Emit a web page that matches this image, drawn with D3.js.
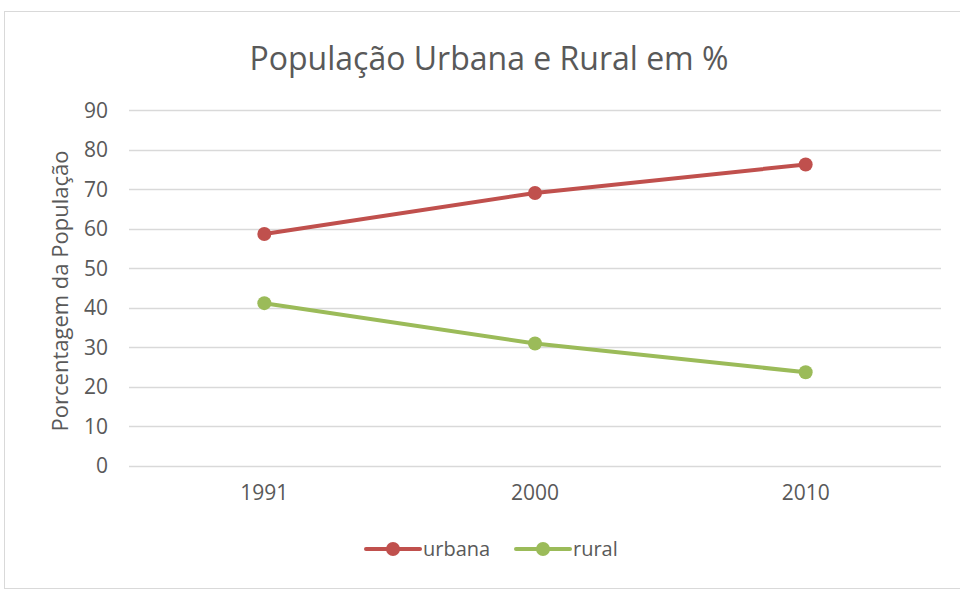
<!DOCTYPE html>
<html>
<head>
<meta charset="utf-8">
<script src="https://cdn.jsdelivr.net/npm/d3@7"></script>
<style>
  body { margin: 0; background: #fff; }
  svg text { font-family: "Open Sans", "DejaVu Sans", sans-serif; fill: #595959; }
</style>
</head>
<body>
<svg id="chart" width="960" height="590"></svg>
<script>
// data
const years = ["1991", "2000", "2010"];
const urbana = [58.6, 69.0, 76.2];
const rural = [41.1, 30.9, 23.6];
const yTicks = [0, 10, 20, 30, 40, 50, 60, 70, 80, 90];
const seriesNames = ["urbana", "rural"];
const seriesColors = ["#C0504D", "#9BBB59"];

const svg = d3.select("#chart");

// outer frame
svg.append("rect").attr("x", 4.5).attr("y", 11.5).attr("width", 970).attr("height", 577)
  .attr("fill", "none").attr("stroke", "#D9D9D9");

const plotLeft = 129, plotRight = 941, plotTop = 110, plotBottom = 465.5;

let xScale = d3.scaleBand().domain(years).range([plotLeft, plotRight]).padding(0);
let yScale = d3.scaleLinear().domain([0, 90]).range([plotBottom, plotTop]);

// gridlines
svg.append("g").selectAll("line").data(yTicks).enter().append("line")
  .attr("x1", plotLeft).attr("x2", plotRight)
  .attr("y1", d => Math.round(yScale(d)) + 0.5).attr("y2", d => Math.round(yScale(d)) + 0.5)
  .attr("stroke", "#D9D9D9").attr("stroke-width", 1.3);

// y axis labels
let y_axis = d3.axisLeft(yScale).tickValues(yTicks).tickSize(0).tickPadding(0);
let yg = svg.append("g").attr("transform", `translate(${plotLeft - 21},0)`).call(y_axis);
yg.select(".domain").remove();
yg.selectAll("text").style("font-size", "21px").attr("fill", "#595959").attr("dy", "0.35em");

// x axis labels
let x_axis = d3.axisBottom(xScale).tickSize(0).tickPadding(0);
let xg = svg.append("g").attr("transform", `translate(0,${plotBottom + 20})`).call(x_axis);
xg.select(".domain").remove();
xg.selectAll("text").style("font-size", "21px").attr("fill", "#595959").attr("dy", "0.71em");

// title
svg.append("text").attr("x", 489).attr("y", 70).attr("text-anchor", "middle")
  .style("font-size", "32px").text("População Urbana e Rural em %");

// y label
svg.append("g").attr("transform", `translate(68,${291}) rotate(270)`)
  .append("text").attr("text-anchor", "middle").style("font-size", "22px")
  .text("Porcentagem da População");

// lines
const allSeries = [urbana, rural];
const line = d3.line().x((d, i) => xScale(years[i]) + xScale.bandwidth() / 2).y(d => yScale(d));
allSeries.forEach((vals, s) => {
  svg.append("path").datum(vals).attr("d", line)
    .attr("fill", "none").attr("stroke", seriesColors[s]).attr("stroke-width", 4)
    .attr("stroke-linecap", "round");
  svg.append("g").selectAll("circle").data(vals).enter().append("circle")
    .attr("cx", (d, i) => xScale(years[i]) + xScale.bandwidth() / 2)
    .attr("cy", d => yScale(d))
    .attr("r", 7).attr("fill", seriesColors[s]);
});

// legend
const legendX = [366, 516];
seriesNames.forEach((name, s) => {
  let g = svg.append("g").attr("transform", `translate(${legendX[s]},549)`);
  g.append("line").attr("x1", 0).attr("x2", 54).attr("y1", 0).attr("y2", 0)
    .attr("stroke", seriesColors[s]).attr("stroke-width", 4).attr("stroke-linecap", "round");
  g.append("circle").attr("cx", 27).attr("cy", 0).attr("r", 7).attr("fill", seriesColors[s]);
  g.append("text").attr("x", 57).attr("y", 0).attr("dy", "0.35em").style("font-size", "20px").text(name);
});
</script>
</body>
</html>
